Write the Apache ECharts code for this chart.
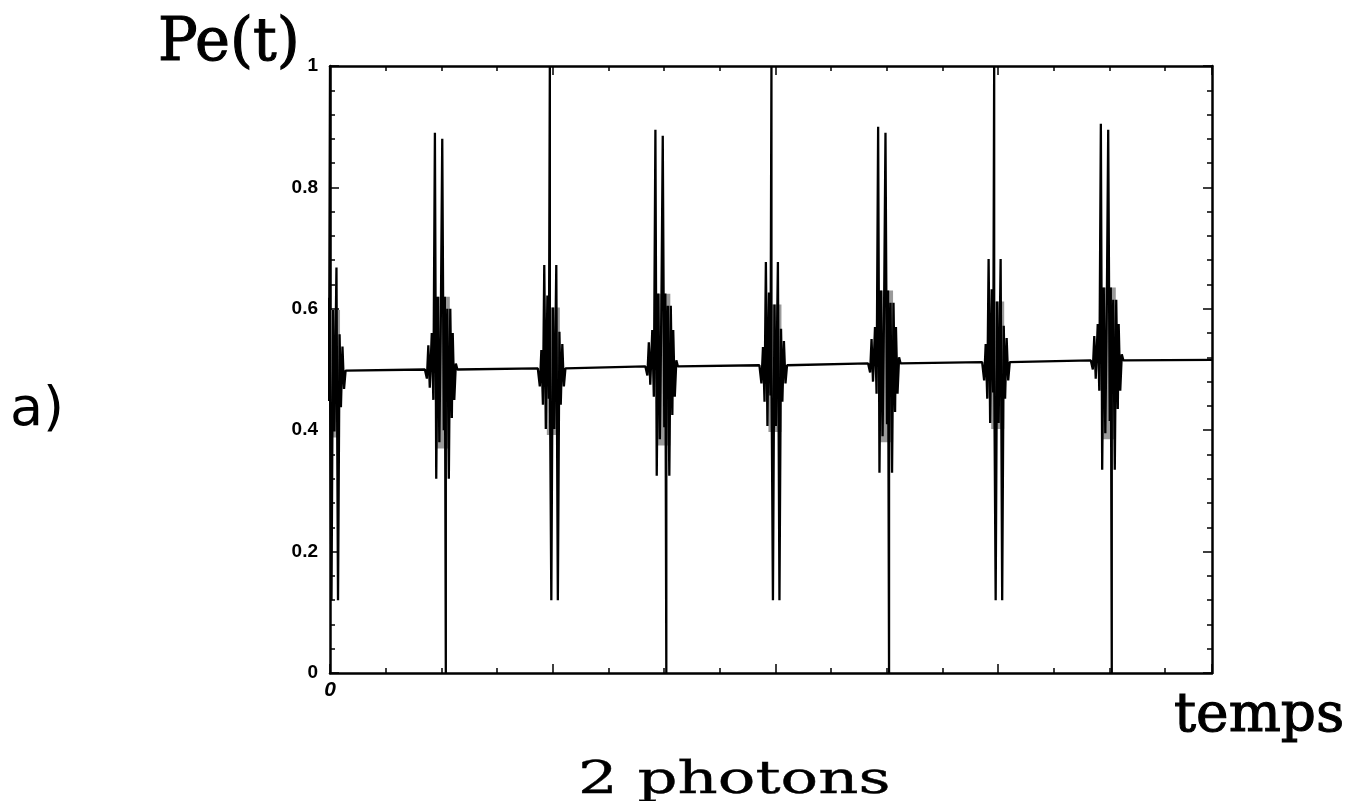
<!DOCTYPE html>
<html>
<head>
<meta charset="utf-8">
<script src="https://cdn.jsdelivr.net/npm/echarts@6/dist/echarts.min.js"></script>
<style>
html,body{margin:0;padding:0;background:#fff;}
#c{width:1353px;height:801px;}
</style>
</head>
<body>
<div id="c"></div>
<script>
// ---- data ----
const yTickLabels = ['0', '0.2', '0.4', '0.6', '0.8', '1'];
const xTickLabels = ['0'];
// "even" revivals: spike up to 1 (time of the spike)
const evenCentres = [0, 98.7, 198.2, 298.2];
// "odd" revivals: spike down to 0 (time of the spike)
const oddCentres = [52, 151, 251, 351];
// plateau level after each revival (in time order)
const plateauTimes = [0, 52, 98.7, 151, 198.2, 251, 298.2, 351, 396];
const plateauLevels = [0.498, 0.500, 0.502, 0.505, 0.507, 0.510, 0.512, 0.515, 0.516];
// shape of an odd revival: time offset from the down spike, value
const oddOffsets = [-9.4,-8.5,-7.85,-7.2,-6.3,-5.6,-4.9,-4.3,-3.6,-2.9,-2.2,-1.6,-0.9,-0.45,0,0.67,1.35,2.0,2.7,3.1,3.8,4.5,5.2];
const oddValues  = [0.50,0.485,0.54,0.47,0.56,0.45,0.89,0.32,0.62,0.38,0.60,0.88,0.40,0.62,0.00,0.60,0.32,0.60,0.42,0.56,0.45,0.51,0.50];
// shape of an even revival: time offset from the up spike, value
const evenOffsets = [-5.4,-4.5,-3.8,-3.1,-2.5,-1.8,-1.1,-0.45,0,0.67,1.35,2.0,2.9,3.6,4.3,4.9,5.6,6.3,7.0];
const evenValues  = [0.50,0.47,0.53,0.44,0.67,0.40,0.62,0.45,1.00,0.12,0.60,0.40,0.67,0.12,0.56,0.44,0.54,0.47,0.50];
// grey (unresolved fast oscillation) core of each revival: offsets and values
const oddCore  = {from:-4.0, to:1.8, low:0.37, high:0.62};
const evenCore = {from:-1.35, to:4.5, low:0.39, high:0.60};

// ---- build the series ----
function levelAt(t){
  let lv = plateauLevels[0];
  for (let i=0;i<plateauTimes.length;i++){ if (t>=plateauTimes[i]) lv = plateauLevels[i]; }
  return lv;
}
const pts = [];
const cores = [];
evenCentres.forEach(c => {
  const d = levelAt(c) - 0.5;
  evenOffsets.forEach((o,i) => pts.push([c+o, evenValues[i] === 1 || evenValues[i] < 0.2 ? evenValues[i] : evenValues[i]+d]));
  cores.push([{coord:[Math.max(0, c+evenCore.from), evenCore.low+d]}, {coord:[c+evenCore.to, evenCore.high+d]}]);
});
oddCentres.forEach(c => {
  const d = levelAt(c) - 0.5;
  oddOffsets.forEach((o,i) => pts.push([c+o, oddValues[i] < 0.05 ? oddValues[i] : oddValues[i]+d]));
  cores.push([{coord:[c+oddCore.from, oddCore.low+d]}, {coord:[c+oddCore.to, oddCore.high+d]}]);
});
plateauTimes.forEach((t,i) => pts.push([t, plateauLevels[i]]));
pts.sort((a,b)=>a[0]-b[0]);

const chart = echarts.init(document.getElementById('c'), null, {renderer:'canvas'});
const axisLineStyle = {color:'#000', width:2.5};
const tickStyle = {color:'#000', width:1.5};
const base = {
  min:0, axisLine:{show:true, onZero:false, lineStyle:axisLineStyle},
  splitLine:{show:false}
};
function serif(text, size, stroke){
  return {text:text, fontFamily:'DejaVu Serif', fontSize:size, fill:'#000', stroke:'#000', lineWidth:stroke, align:'left', verticalAlign:'top'};
}
chart.setOption({
  animation:false,
  backgroundColor:'#fff',
  grid:{left:330, top:66, width:882, height:607, containLabel:false},
  xAxis:[
    Object.assign({}, base, {type:'value', max:396, interval:100, position:'bottom',
      axisTick:{show:true, inside:true, length:9, lineStyle:tickStyle},
      minorTick:{show:true, splitNumber:4, length:5, lineStyle:tickStyle},
      axisLabel:{show:true, margin:7, color:'#000', fontFamily:'Liberation Sans', fontStyle:'italic', fontWeight:'bold', fontSize:21,
        formatter:v => v===0 ? xTickLabels[0] : ''}
    }),
    Object.assign({}, base, {type:'value', max:396, interval:100, position:'top',
      axisTick:{show:true, inside:true, length:9, lineStyle:tickStyle},
      minorTick:{show:true, splitNumber:4, length:5, lineStyle:tickStyle},
      axisLabel:{show:false}
    })
  ],
  yAxis:[
    Object.assign({}, base, {type:'value', max:1, interval:0.2, position:'left',
      axisTick:{show:true, inside:true, length:9, lineStyle:tickStyle},
      minorTick:{show:true, splitNumber:5, length:5, lineStyle:tickStyle},
      axisLabel:{show:true, margin:12, color:'#000', fontFamily:'Liberation Sans', fontWeight:'bold', fontSize:19,
        formatter:(v)=> yTickLabels[Math.round(v/0.2)]}
    }),
    Object.assign({}, base, {type:'value', max:1, interval:0.2, position:'right',
      axisTick:{show:true, inside:true, length:9, lineStyle:tickStyle},
      minorTick:{show:true, splitNumber:5, length:5, lineStyle:tickStyle},
      axisLabel:{show:false}
    })
  ],
  series:[{
    type:'line', data:pts, xAxisIndex:0, yAxisIndex:0,
    showSymbol:false, symbol:'none', clip:true,
    lineStyle:{color:'#000', width:2.3},
    markArea:{silent:true, itemStyle:{color:'#9a9a9a'}, data:cores}
  }],
  graphic:[
    {type:'text', x:158, y:15, style:serif('Pe(t)', 59, 1.1)},
    {type:'text', x:1174, y:689, style:serif('temps', 55, 1.1)},
    {type:'text', x:578, y:760, scaleX:1.42, style:serif('2 photons', 44, 0.4)},
    {type:'text', x:10, y:384, style:{text:'a)', fontFamily:'DejaVu Sans', fontSize:54, fill:'#000', align:'left', verticalAlign:'top'}}
  ]
});
</script>
</body>
</html>
